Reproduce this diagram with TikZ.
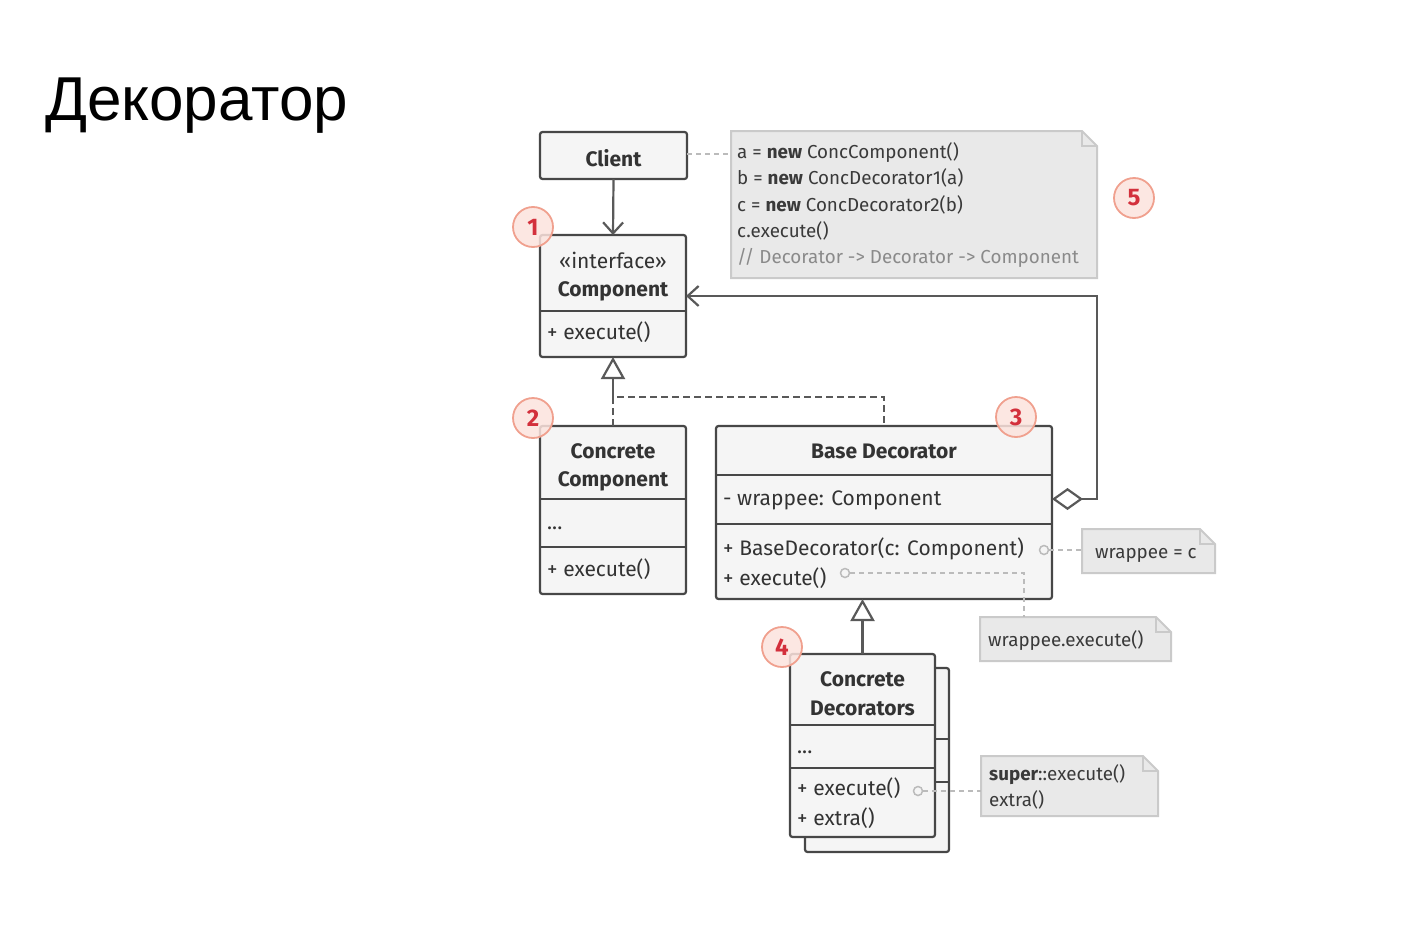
\documentclass[tikz,border=0pt]{standalone}
\usepackage{fontspec}
\setmainfont{Fira Sans}
\newfontfamily\titlefont{Liberation Sans}
\usetikzlibrary{arrows.meta}
\definecolor{boxline}{HTML}{474747}
\definecolor{boxfill}{HTML}{F5F5F5}
\definecolor{txt}{HTML}{333333}
\definecolor{notefill}{HTML}{E9E9E9}
\definecolor{noteline}{HTML}{CACACA}
\definecolor{notetxt}{HTML}{3A3A3A}
\definecolor{notegray}{HTML}{8A8A8A}
\definecolor{noteconn}{HTML}{BBBBBB}
\definecolor{badgefill}{HTML}{FCE3DD}
\definecolor{badgeline}{HTML}{F0A08E}
\definecolor{badgetxt}{HTML}{D3303C}
\begin{document}
\begin{tikzpicture}[x=1pt,y=-1pt,
  box/.style={draw=boxline, fill=boxfill, line width=2.2pt, rounded corners=2.5pt, inner sep=0pt, outer sep=0pt},
  divider/.style={draw=boxline, line width=2.2pt},
  lbl/.style={font=\fontsize{21}{24}\selectfont, text=txt, inner sep=0pt, yshift=-3.5pt},
  blbl/.style={lbl, font=\fontsize{21}{24}\selectfont\bfseries},
  ntxt/.style={font=\fontsize{18.8}{22}\selectfont, text=notetxt, inner sep=0pt, anchor=mid west, yshift=-4pt},
  noteshape/.style={draw=noteline, fill=notefill, line width=2pt},
  notebox/.style={draw=none, fill=none, inner sep=0pt, outer sep=0pt},
  conn/.style={draw=boxline!90, line width=2.2pt},
  nconn/.style={draw=noteconn, line width=1.6pt, dash pattern=on 5pt off 4pt},
  dot/.style={circle, draw=noteconn, fill=boxfill, line width=1.5pt, minimum size=9pt, inner sep=0pt},
  badge/.style={circle, draw=badgeline, fill=badgefill, fill opacity=0.85, text opacity=1, line width=1.8pt, minimum size=40pt, inner sep=0pt, text=badgetxt, font=\fontsize{24}{24}\selectfont\bfseries},
  opentri/.style={-{Triangle[open, fill=white, length=22pt, width=24pt, line width=2.2pt]}},
  barb/.style={-{Straight Barb[length=11pt, width=20pt, line width=2.2pt]}}
]
\useasboundingbox (0,0) rectangle (1411,926);

% title
\node[anchor=base west, inner sep=0pt, font=\titlefont\fontsize{62}{62}\selectfont] (title) at (45,120) {Декоратор};

% ---------- notes ----------
\newcommand\dognote[1]{%
  \path[noteshape] (#1.north west) -- ([xshift=-15pt]#1.north east) -- ([yshift=-15pt]#1.north east) -- (#1.south east) -- (#1.south west) -- cycle;
  \draw[draw=noteline, line width=2pt] ([xshift=-15pt]#1.north east) -- ([xshift=-15pt,yshift=-15pt]#1.north east) -- ([yshift=-15pt]#1.north east);}

\node[notebox, minimum width=366pt, minimum height=147pt] (n5) at (914,204.5) {};
\dognote{n5}
\node[ntxt] (n5a) at (737,152) {a = \textbf{new} ConcComponent()};
\node[ntxt] (n5b) at (737,178) {b = \textbf{new} ConcDecorator1(a)};
\node[ntxt] (n5c) at (737,204.5) {c = \textbf{new} ConcDecorator2(b)};
\node[ntxt] (n5d) at (737,231) {c.execute()};
\node[ntxt, text=notegray] (n5e) at (737,257) {// Decorator -> Decorator -> Component};

\node[notebox, minimum width=133pt, minimum height=44pt] (n1) at (1148.5,551) {};
\dognote{n1}
\node[ntxt] (n1a) at (1095,552) {wrappee = c};

\node[notebox, minimum width=191pt, minimum height=44pt] (n2) at (1075.5,639) {};
\dognote{n2}
\node[ntxt] (n2a) at (988,640) {wrappee.execute()};

\node[notebox, minimum width=177pt, minimum height=60pt] (n3) at (1069.5,786) {};
\dognote{n3}
\node[ntxt] (n3a) at (989,774) {\textbf{super}::execute()};
\node[ntxt] (n3b) at (989,800) {extra()};

% ---------- Client ----------
\node[box, minimum width=147pt, minimum height=47pt] (client) at (613.5,155.5) {};
\node[blbl] (clientt) at (613.5,155) {Client};

% ---------- Component ----------
\node[box, minimum width=146pt, minimum height=122pt] (comp) at (613,296) {};
\draw[divider] (comp.west |- 0,311) -- (comp.east |- 0,311);
\node[lbl] (compa) at (613,257) {«interface»};
\node[blbl] (compb) at (613,288) {Component};
\node[lbl, anchor=mid west] (compc) at (547,333) {+ execute()};

% ---------- Concrete Component ----------
\node[box, minimum width=146pt, minimum height=168pt] (cc) at (613,510) {};
\draw[divider] (cc.west |- 0,499) -- (cc.east |- 0,499);
\draw[divider] (cc.west |- 0,547) -- (cc.east |- 0,547);
\node[blbl] (cca) at (613,448) {Concrete};
\node[blbl] (ccb) at (613,478) {Component};
\node[lbl, anchor=mid west] (ccc) at (547,523) {...};
\node[lbl, anchor=mid west] (ccd) at (547,570) {+ execute()};

% ---------- Base Decorator ----------
\node[box, minimum width=336pt, minimum height=173pt] (bd) at (884,512.5) {};
\draw[divider] (bd.west |- 0,475) -- (bd.east |- 0,475);
\draw[divider] (bd.west |- 0,524) -- (bd.east |- 0,524);
\node[blbl] (bda) at (884,448) {Base Decorator};
\node[lbl, anchor=mid west] (bdb) at (723,499) {- wrappee: Component};
\node[lbl, anchor=mid west] (bdc) at (723,549) {+ BaseDecorator(c: Component)};
\node[lbl, anchor=mid west] (bdd) at (723,579) {+ execute()};

% ---------- Concrete Decorators ----------
\node[box, minimum width=144pt, minimum height=184pt] (cdback) at (877,760) {};
\draw[divider] (cdback.west |- 0,739) -- (cdback.east |- 0,739);
\draw[divider] (cdback.west |- 0,782) -- (cdback.east |- 0,782);
\node[box, minimum width=145pt, minimum height=183pt] (cd) at (862.5,745.5) {};
\draw[divider] (cd.west |- 0,725) -- (cd.east |- 0,725);
\draw[divider] (cd.west |- 0,768) -- (cd.east |- 0,768);
\node[blbl] (cda) at (862.5,676) {Concrete};
\node[blbl] (cdb) at (862.5,705) {Decorators};
\node[lbl, anchor=mid west] (cdc) at (797,747) {...};
\node[lbl, anchor=mid west] (cdd) at (797,789) {+ execute()};
\node[lbl, anchor=mid west] (cde) at (797,819) {+ extra()};

% ---------- connectors ----------
\draw[conn, barb] (client.south) -- (comp.north);
\coordinate (j1) at (613,397);
\draw[conn, dash pattern=on 7pt off 4pt] (cc.north) -- (j1) -| (bd.north);
\draw[conn, opentri] (j1) -- (comp.south);
\coordinate (k1) at (1097,499);
\coordinate (k2) at (1097,296);
\draw[conn, {Diamond[open, fill=white, length=31pt, width=22pt, line width=2.2pt]}-{Straight Barb[length=11pt, width=20pt, line width=2.2pt]}] (bd.east |- k1) -- (k1) -- (k2) -- (comp.east |- k2);
\draw[conn, opentri] (cd.north) -- (cd.north |- bd.south);

% note connectors
\draw[nconn] (client.east |- 0,154) -- (n5.west |- 0,154);
\node[dot] (d1) at (1044,550) {};
\draw[nconn] (d1) -- (n1.west |- d1);
\node[dot] (d2) at (845,573) {};
\coordinate (k3) at (1024,573);
\draw[nconn] (d2) -- (k3) -- (k3 |- n2.north);
\node[dot] (d3) at (918,791) {};
\draw[nconn] (d3) -- (n3.west |- d3);

% ---------- badges ----------
\node[badge] (b1) at (533,227) {1};
\node[badge] (b2) at (533,418) {2};
\node[badge] (b3) at (1016,417) {3};
\node[badge] (b4) at (782,647) {4};
\node[badge] (b5) at (1134,198) {5};
\end{tikzpicture}
\end{document}
